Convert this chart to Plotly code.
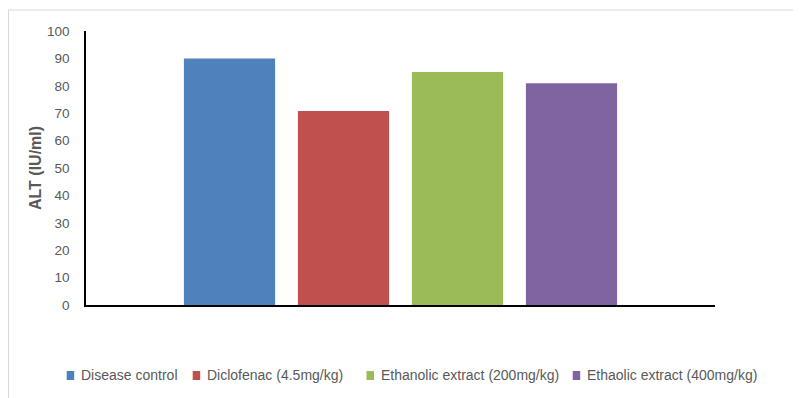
import plotly.graph_objects as go

categories = ["ALT"]
series_names = ["Disease control", "Diclofenac (4.5mg/kg)",
                "Ethanolic extract (200mg/kg)", "Ethaolic extract (400mg/kg)"]
series_values = [90.0, 70.8, 85.0, 80.9]
colors = ["#4F81BD", "#C0504D", "#9BBB59", "#8064A2"]
y_ticks = [0, 10, 20, 30, 40, 50, 60, 70, 80, 90, 100]

# page pixel layout (the html body adds an 8px offset)
OFF = 8
W, H = 801 - OFF, 398 - OFF
PX0, PX1 = 86, 715      # plot area x on page
PY0, PY1 = 31, 305      # plot area y on page (top, bottom)
L, T = PX0 - OFF, PY0 - OFF
R = W - (PX1 - OFF)
B = H - (PY1 - OFF)
pw, ph = PX1 - PX0, PY1 - PY0


def px(x):
    return (x - PX0) / pw


def py(y):
    return (PY1 - y) / ph


fig = go.Figure()
for name, val, col in zip(series_names, series_values, colors):
    fig.add_trace(go.Bar(x=categories, y=[val], name=name,
                         marker=dict(color=col, line=dict(width=0)),
                         showlegend=False))

fig.update_layout(
    width=W, height=H,
    margin=dict(l=L, r=R, t=T, b=B, autoexpand=False),
    paper_bgcolor="white", plot_bgcolor="white",
    barmode="group", bargap=0.275, bargroupgap=0.2,
    font=dict(family="Liberation Sans, Arial", color="#595959", size=13),
    showlegend=False,
    xaxis=dict(showticklabels=False, showgrid=False, zeroline=False,
               showline=True, linecolor="black", linewidth=1.5,
               ticks="", range=[-0.5, 0.5], fixedrange=True),
    yaxis=dict(range=[0, 100], tickvals=y_ticks, showgrid=False,
               zeroline=False, showline=True, linecolor="black",
               linewidth=1.5, ticks="", ticklabelstandoff=12,
               tickfont=dict(size=13.5, color="#595959",
                             family="Liberation Sans, Arial"),
               title=dict(text="<b>ALT (IU/ml)</b>", standoff=1,
                          font=dict(size=16, color="#595959",
                                    family="Liberation Sans, Arial"))),
)

# outer chart frame (top and left edges visible)
fig.add_shape(type="line", xref="paper", yref="paper",
              x0=px(OFF + 0.5), x1=px(801 + 5),
              y0=py(10), y1=py(10),
              line=dict(color="#D9D9D9", width=1))
fig.add_shape(type="line", xref="paper", yref="paper",
              x0=px(OFF + 0.5), x1=px(OFF + 0.5),
              y0=py(10), y1=py(400),
              line=dict(color="#D9D9D9", width=1))

# legend drawn at the bottom: square marker + text per series
legend_marker_x = [66.7, 192.7, 366.5, 572.7]
LEG_Y = 375.5
for name, col, mx in zip(series_names, colors, legend_marker_x):
    fig.add_shape(type="rect", xref="paper", yref="paper",
                  x0=px(mx), x1=px(mx + 7.5),
                  y0=py(LEG_Y - 4.5), y1=py(LEG_Y + 4.5),
                  line=dict(width=0), fillcolor=col)
    fig.add_annotation(xref="paper", yref="paper", x=px(mx + 12.5),
                       y=py(LEG_Y), xanchor="left", yanchor="middle",
                       text=name, showarrow=False,
                       font=dict(family="Liberation Sans, Arial",
                                 size=14, color="#595959"))

fig.write_html("out.html")
